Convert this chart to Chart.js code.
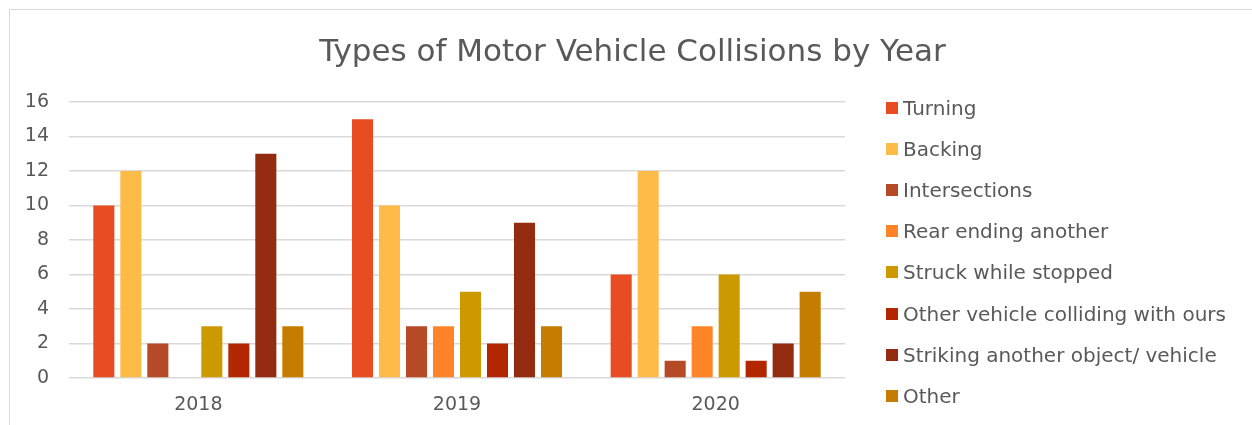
<!DOCTYPE html>
<html lang="en">
<head>
  <meta charset="UTF-8">
  <title>Types of Motor Vehicle Collisions by Year</title>
  <script src="https://cdn.jsdelivr.net/npm/chart.js"></script>
  <style>
    * { margin: 0; padding: 0; box-sizing: border-box; }
    body {
      width: 1252px;
      height: 425px;
      overflow: hidden;
      background: #fff;
      font-family: 'DejaVu Sans', sans-serif;
      color: #595959;
      position: relative;
    }
    .frame {
      position: absolute;
      left: 9px;
      top: 9px;
      width: 1300px;
      height: 500px;
      border: 1.5px solid #d9d9d9;
    }
    .chart-box {
      position: absolute;
      left: 0;
      top: 0;
      width: 1252px;
      height: 425px;
    }
    .title {
      position: absolute;
      left: 9px;
      width: 1247px;
      top: 30px;
      height: 40px;
      line-height: 40px;
      text-align: center;
      font-size: 31px;
      white-space: nowrap;
    }
    .legend {
      position: absolute;
      left: 886px;
      top: 87px;
      list-style: none;
    }
    .legend li {
      height: 41.2px;
      display: flex;
      align-items: center;
      font-size: 20px;
      white-space: nowrap;
    }
    .legend .swatch {
      width: 12px;
      height: 12px;
      margin-right: 5px;
      flex: none;
    }
  </style>
</head>
<body>
  <div class="frame"></div>
  <div class="chart-box">
    <canvas id="collisionChart" width="1252" height="425"></canvas>
  </div>
  <div class="title">Types of Motor Vehicle Collisions by Year</div>
  <ul class="legend" id="legend"></ul>

<script>
  const years = ['2018', '2019', '2020'];
  const collisionTypes = [
    'Turning',
    'Backing',
    'Intersections',
    'Rear ending another',
    'Struck while stopped',
    'Other vehicle colliding with ours',
    'Striking another object/ vehicle',
    'Other'
  ];
  const turning = [10, 15, 6];
  const backing = [12, 10, 12];
  const intersections = [2, 3, 1];
  const rearEnding = [0, 3, 3];
  const struckStopped = [3, 5, 6];
  const otherColliding = [2, 2, 1];
  const strikingObject = [13, 9, 2];
  const other = [3, 3, 5];
  const yTicks = [0, 2, 4, 6, 8, 10, 12, 14, 16];

  const colors = ['#e84c22', '#ffbb48', '#b64926', '#ff8427', '#cc9900', '#b22600', '#922b10', '#c47d00'];
  const seriesValues = [turning, backing, intersections, rearEnding, struckStopped, otherColliding, strikingObject, other];

  const datasets = collisionTypes.map((name, i) => ({
    label: name,
    data: seriesValues[i],
    backgroundColor: colors[i],
    borderWidth: 0
  }));

  // legend on the right, built from the same arrays
  const legendEl = document.getElementById('legend');
  collisionTypes.forEach((name, i) => {
    const li = document.createElement('li');
    li.innerHTML = `<span class="swatch" style="background:${colors[i]}"></span>${name}`;
    legendEl.appendChild(li);
  });

  const ctx = document.getElementById('collisionChart').getContext('2d');
  new Chart(ctx, {
    type: 'bar',
    data: { labels: years, datasets: datasets },
    options: {
      responsive: false,
      animation: false,
      layout: { padding: { left: 9, right: 407, top: 102, bottom: 8 } },
      datasets: { bar: { categoryPercentage: 0.835, barPercentage: 0.78 } },
      plugins: {
        legend: { display: false },
        tooltip: { enabled: false },
        title: { display: false }
      },
      scales: {
        x: {
          afterFit: (scale) => { scale.height = 39; },
          grid: { display: false, drawTicks: false },
          border: { display: false },
          ticks: {
            color: '#595959',
            font: { family: 'DejaVu Sans', size: 19 },
            padding: 16
          }
        },
        y: {
          min: 0,
          max: 16,
          afterFit: (scale) => { scale.width = 60; },
          afterBuildTicks: (scale) => { scale.ticks = yTicks.map(v => ({ value: v })); },
          border: { display: false },
          grid: { color: '#d9d9d9', lineWidth: 1.5, drawTicks: false },
          ticks: {
            color: '#595959',
            font: { family: 'DejaVu Sans', size: 19 },
            padding: 20
          }
        }
      }
    }
  });
</script>
</body>
</html>
